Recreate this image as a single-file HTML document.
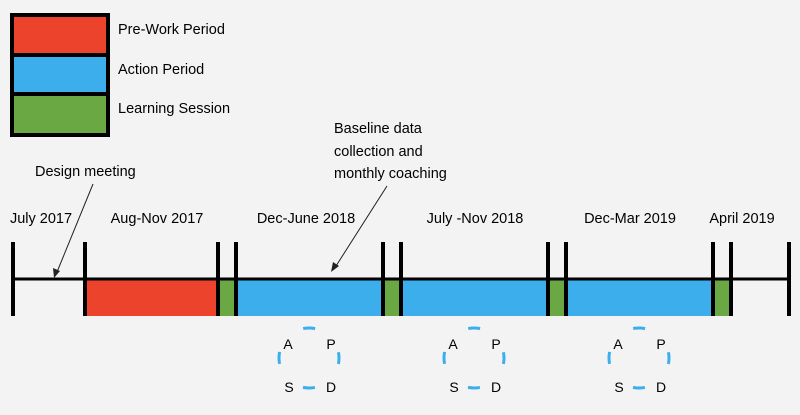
<!DOCTYPE html>
<html><head><meta charset="utf-8"><style>
body{margin:0;background:#f3f3f4;}
svg{display:block;font-family:"Liberation Sans",sans-serif;}
</style></head><body>
<svg width="800" height="415">
<rect x="0" y="0" width="800" height="415" fill="#f3f3f4"/>
<g>
<rect x="10" y="13" width="100" height="124" fill="#000"/>
<rect x="14" y="17" width="92" height="36" fill="#ec432c"/>
<rect x="14" y="57" width="92" height="35" fill="#3daeec"/>
<rect x="14" y="96" width="92" height="37" fill="#6aa843"/>
<text x="118" y="34" font-size="14.5">Pre-Work Period</text>
<text x="118" y="74" font-size="14.5">Action Period</text>
<text x="118" y="113" font-size="14.5">Learning Session</text>
</g>
<g id="bars"></g>
<g id="ticks"></g>
<line x1="13" y1="279" x2="789" y2="279" stroke="#000" stroke-width="3"/>
<g id="labels" font-size="14.5" text-anchor="middle"></g>
<g id="cycles" font-size="14"></g>
<text x="35" y="176" font-size="14.5">Design meeting</text>
<text x="334" y="133" font-size="14.5">Baseline data</text>
<text x="334" y="156" font-size="14.5">collection and</text>
<text x="334" y="178" font-size="14.5">monthly coaching</text>
<line x1="93" y1="184" x2="57" y2="272" stroke="#222" stroke-width="1"/>
<polygon points="54,278 53,268 60,271" fill="#222"/>
<line x1="387" y1="186" x2="336" y2="266" stroke="#222" stroke-width="1"/>
<polygon points="331,272 333,262 339,266" fill="#222"/>
</svg>
<script>
const ticks=[13,85,218,236,383,401,548,566,713,731,789];
const segments=[["prework",85,218],["learning",218,236],["action",236,383],["learning",383,401],["action",401,548],["learning",548,566],["action",566,713],["learning",713,731]];
const periodLabels=["July 2017","Aug-Nov 2017","Dec-June 2018","July -Nov 2018","Dec-Mar 2019","April 2019"];
const labelX=[41,157,306,475,630,742];
const cycleX=[309,474,639];
const colors={prework:"#ec432c",action:"#3daeec",learning:"#6aa843"};
const NS="http://www.w3.org/2000/svg";
function mk(t,a,p){const e=document.createElementNS(NS,t);for(const k in a)e.setAttribute(k,a[k]);p.appendChild(e);return e;}
const gb=document.getElementById('bars');
segments.forEach(s=>{const r=mk('rect',{x:s[1],y:280,width:s[2]-s[1],height:36,fill:colors[s[0]]},gb);

});
const gt=document.getElementById('ticks');
ticks.forEach(x=>{const l=mk('line',{x1:x,y1:242,x2:x,y2:316,stroke:'#000','stroke-width':4},gt);

});
const gl=document.getElementById('labels');
periodLabels.forEach((t,i)=>{const e=mk('text',{x:labelX[i],y:223},gl);e.textContent=t;

});
const gc=document.getElementById('cycles');
cycleX.forEach(cx=>{const g=mk('g',{},gc);


mk('circle',{cx:cx,cy:358,r:30,fill:'none',stroke:'#3daeec','stroke-width':3,'stroke-dasharray':'12 35.1','stroke-dashoffset':6},g);
[["A",-21,-14],["P",22,-14],["S",-20,29],["D",22,29]].forEach(l=>{const t=mk('text',{x:cx+l[1],y:358+l[2]+5,'text-anchor':'middle'},g);t.textContent=l[0];});
});
</script>
</body></html>
